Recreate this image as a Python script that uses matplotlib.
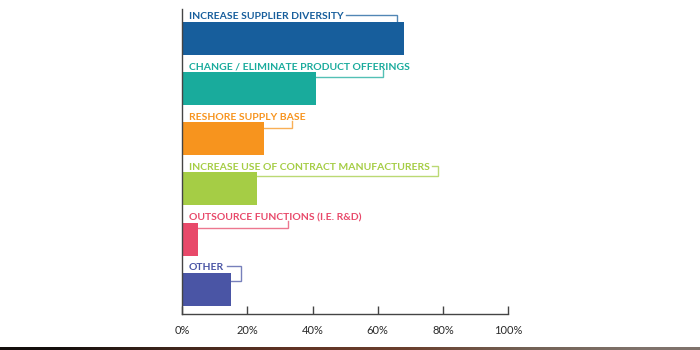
import matplotlib
matplotlib.use("Agg")
import matplotlib.pyplot as plt
import numpy as np

categories = [
    "INCREASE SUPPLIER DIVERSITY",
    "CHANGE / ELIMINATE PRODUCT OFFERINGS",
    "RESHORE SUPPLY BASE",
    "INCREASE USE OF CONTRACT MANUFACTURERS",
    "OUTSOURCE FUNCTIONS (I.E. R&D)",
    "OTHER",
]
values = [68, 41, 25, 23, 5, 15]
colors = ["#175e9c", "#19ab9c", "#f7941e", "#a5cd45", "#e8496a", "#4a55a5"]
tick_vals = [0, 20, 40, 60, 80, 100]
tick_labels = ["0%", "20%", "40%", "60%", "80%", "100%"]

# leader style: ('side'|'under', x of vertical in %, join offset below bar top in px)
leaders = [("side", 65.9, 0), ("under", 61.6, 5), ("under", 33.7, 6),
           ("side", 78.5, 4), ("under", 32.5, 5), ("side", 18.1, 8)]

plt.rcParams['font.family'] = ['Lato', 'DejaVu Sans']
fig = plt.figure(figsize=(7, 3.5), dpi=100)
ax = fig.add_axes([0.26, 36/350, 326.3/700, 305/350])
PX = 1/50.2  # units per pixel in y
pxx = 100/326.3  # % per pixel in x

n = len(categories)
ypos = np.arange(n)
h = 0.66
ax.barh(ypos, values, height=h, color=colors, zorder=2)
ax.set_xlim(0, 100)
ax.set_ylim(5.49, -0.58)

for s in ["top", "right"]:
    ax.spines[s].set_visible(False)
for s in ["left", "bottom"]:
    ax.spines[s].set_color("#444444")
    ax.spines[s].set_linewidth(1.0)
ax.set_yticks([])
ax.set_xticks(tick_vals)
ax.set_xticklabels(tick_labels, fontsize=8, color="#2a2a2a")
ax.tick_params(axis="x", direction="in", length=6, width=1, color="#444444", pad=8)

texts = []
for i, (c, col) in enumerate(zip(categories, colors)):
    t = ax.text(2.0, i - h/2 - 2.5*PX, c, color=col, fontsize=7.45, fontweight="bold",
                ha="left", va="baseline")
    texts.append(t)

fig.canvas.draw()
r = fig.canvas.get_renderer()
inv = ax.transData.inverted()
for i, (t, (style, xv, joff)) in enumerate(zip(texts, leaders)):
    bb = t.get_window_extent(r)
    x_end = inv.transform((bb.x1, bb.y0))[0]
    top = i - h/2
    base = i - h/2 - 2.5*PX
    join = top + joff*PX
    col = colors[i]
    if style == "side":
        ymid = base - 4*PX
        xs = [x_end + 3*pxx, xv, xv]
        ys = [ymid, ymid, join]
        if xv > values[i]:
            xs.append(values[i]); ys.append(join)
    else:
        xs = [values[i], xv, xv]
        ys = [join, join, base + 1*PX]
    ax.plot(xs, ys, color=col, lw=1.0, alpha=0.75, zorder=3, solid_joinstyle="miter")

# bottom photo strip
sax = fig.add_axes([0, 0, 1, 3.5/350])
grad = np.array([[0.08, 0.06, 0.05], [0.25, 0.15, 0.11], [0.38, 0.2, 0.14],
                 [0.42, 0.25, 0.18], [0.45, 0.38, 0.33], [0.5, 0.45, 0.42]])
sax.imshow(grad[np.newaxis, :, :], aspect="auto", interpolation="bilinear")
sax.axis("off")

fig.savefig("out.png", dpi=100)
